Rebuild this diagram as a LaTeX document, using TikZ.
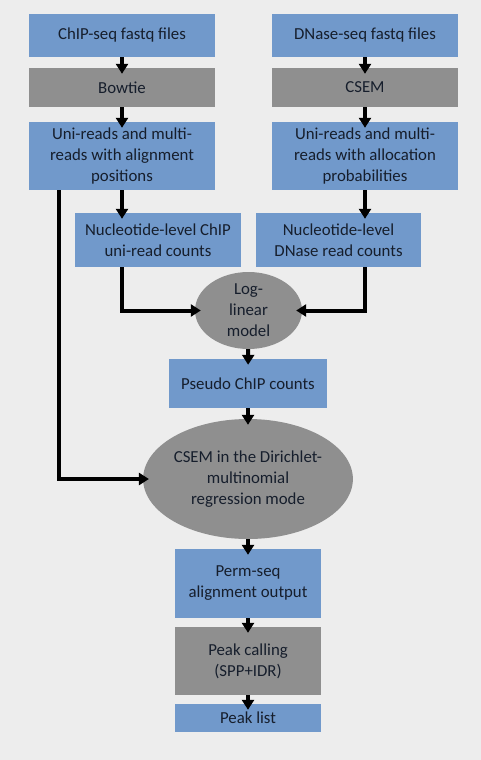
\documentclass[tikz,border=0pt]{standalone}
\usepackage{fontspec}
\setmainfont{Carlito}
\usepackage{tikz}
\usetikzlibrary{calc,arrows.meta,shapes.geometric}

\definecolor{bgcol}{HTML}{EDEDED}
\definecolor{boxblue}{HTML}{7199CB}
\definecolor{boxgray}{HTML}{8F8F8F}
\definecolor{txtcol}{HTML}{161E2C}

\tikzset{
	stepnode/.style={fill=#1, inner sep=0pt, align=center, text=txtcol,
		font=\fontsize{16.8}{21}\selectfont},
	bluebox/.style={stepnode=boxblue, rectangle},
	graybox/.style={stepnode=boxgray, rectangle},
	grayoval/.style={stepnode=boxgray, ellipse},
	flow/.style={line width=4pt, shorten >=-6pt, -{Triangle[length=10pt,width=12pt]}},
}

\begin{document}
\begin{tikzpicture}[x=1pt,y=-1pt]
		\fill[bgcol] (0,0) rectangle (481,760);
		
		\node[bluebox, minimum width=186pt, minimum height=43pt] (chip) at (122,35.5) {ChIP-seq fastq files};
		\node[bluebox, minimum width=186pt, minimum height=43pt] (dnase) at (365,35.5) {DNase-seq fastq files};
		\node[graybox, minimum width=186pt, minimum height=39pt] (bowtie) at (122,87.5) {Bowtie};
		\node[graybox, minimum width=186pt, minimum height=39pt] (csem) at (365,87.5) {CSEM};
		\node[bluebox, minimum width=186pt, minimum height=68pt] (unil) at (122,156) {Uni-reads and multi-\\reads with alignment\\positions};
		\node[bluebox, minimum width=186pt, minimum height=68pt] (unir) at (365,156) {Uni-reads and multi-\\reads with allocation\\probabilities};
		\node[bluebox, minimum width=166pt, minimum height=54pt] (ntchip) at (158,240) {Nucleotide-level ChIP\\uni-read counts};
		\node[bluebox, minimum width=165pt, minimum height=54pt] (ntdnase) at (338.5,240) {Nucleotide-level\\DNase read counts};
		\node[grayoval, minimum width=107pt, minimum height=77pt] (loglin) at (248.5,310.5) {Log-\\linear\\model};
		\node[bluebox, minimum width=158pt, minimum height=49pt] (pseudo) at (248,383.5) {Pseudo ChIP counts};
		\node[grayoval, minimum width=180pt, minimum height=120pt] (dirichlet) at (248,479) {CSEM in the Dirichlet-\\multinomial\\regression mode};
		\node[bluebox, minimum width=146pt, minimum height=69pt] (permseq) at (248,583.5) {Perm-seq\\alignment output};
		\node[graybox, minimum width=146pt, minimum height=68pt] (peakcall) at (248,661) {Peak calling\\(SPP+IDR)};
		\node[bluebox, minimum width=146pt, minimum height=28pt] (peaklist) at (248,718) {Peak list};
		
		\draw[flow] (chip) -- (bowtie);
		\draw[flow] (dnase) -- (csem);
		\draw[flow] (bowtie) -- (unil);
		\draw[flow] (csem) -- (unir);
		\draw[flow] (unil.south) -- (unil.south |- ntchip.north);
		\draw[flow] (unir.south) -- (unir.south |- ntdnase.north);
		\draw[flow] (ntchip.south -| unil.south) |- (loglin.west);
		\draw[flow] (ntdnase.south -| unir.south) |- (loglin.east);
		\draw[flow] ($(unil.south west)+(30,0)$) |- (dirichlet.west);
		\draw[flow] (loglin) -- (pseudo);
		\draw[flow] (pseudo) -- (dirichlet);
		\draw[flow] (dirichlet) -- (permseq);
		\draw[flow] (permseq) -- (peakcall);
		\draw[flow] (peakcall) -- (peaklist);
	\end{tikzpicture}
\end{document}
